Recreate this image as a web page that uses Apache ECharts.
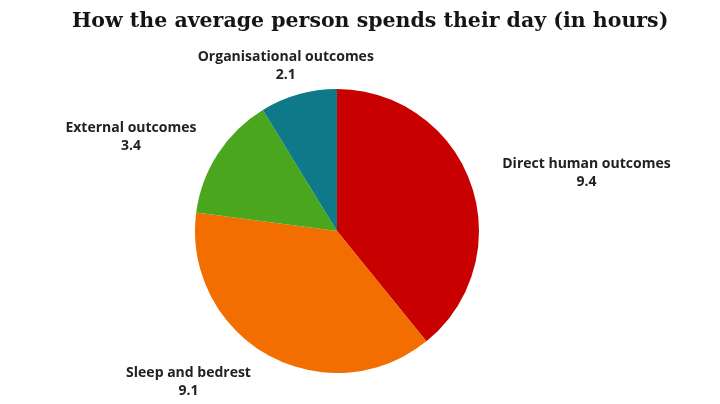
<!DOCTYPE html>
<html lang="en">
<head>
    <meta charset="UTF-8">
    <title>How the average person spends their day</title>
    <script src="https://cdn.jsdelivr.net/npm/echarts@6/dist/echarts.min.js"></script>
    <style>
        html, body { margin: 0; padding: 0; background: #fff; }
    </style>
</head>
<body>
<div id="main" style="width:720px;height:404px;"></div>

<script type="text/javascript">
    // data (hours per day)
    var names = ['Direct human outcomes', 'Sleep and bedrest', 'External outcomes', 'Organisational outcomes'];
    var hours = [9.4, 9.1, 3.4, 2.1];
    var colors = ['#c80000', '#f36e00', '#4aa61c', '#0e7a89'];

    // small nudges for each label, from where the pie puts it
    var labelShift = [[0, -1], [2, 3], [7, -1], [88, -1]];

    var pieData = [];
    for (var i = 0; i < names.length; i++) {
        pieData.push({ name: names[i], value: hours[i], itemStyle: { color: colors[i] } });
    }

    var myChart = echarts.init(document.getElementById('main'));
    myChart.setOption({
        backgroundColor: '#ffffff',
        animation: false,
        title: {
            text: 'How the average person spends their day (in hours)',
            left: 67,
            top: 6,
            textStyle: {
                fontFamily: 'DejaVu Serif',
                fontWeight: 'bold',
                fontSize: 20.5,
                color: '#151515'
            }
        },
        series: [
            {
                type: 'pie',
                center: [337, 231],
                radius: 142,
                startAngle: 90,
                clockwise: true,
                avoidLabelOverlap: false,
                data: pieData,
                label: {
                    show: true,
                    position: 'outside',
                    formatter: '{n|{b}}\n{n|{c}}',
                    rich: {
                        n: {
                            align: 'center',
                            fontFamily: 'Open Sans',
                            fontWeight: 'bold',
                            fontSize: 14,
                            lineHeight: 18,
                            color: '#222'
                        }
                    }
                },
                labelLine: { show: false, length: 28, length2: 0 },
                labelLayout: function (p) {
                    var s = labelShift[p.dataIndex];
                    return { dx: s[0], dy: s[1] };
                }
            }
        ]
    });
</script>
</body>
</html>
